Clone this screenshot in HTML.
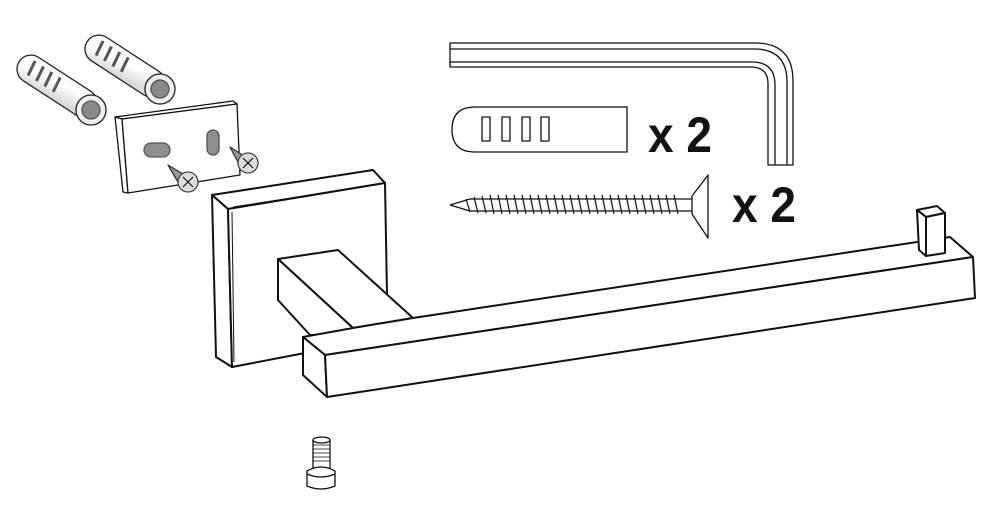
<!DOCTYPE html>
<html><head><meta charset="utf-8"><style>
html,body{margin:0;padding:0;background:#fff;width:1000px;height:508px;overflow:hidden}
</style></head><body>
<svg width="1000" height="508" viewBox="0 0 1000 508" xmlns="http://www.w3.org/2000/svg">
<defs>
<linearGradient id="dw" x1="0" y1="0" x2="0.4" y2="1">
<stop offset="0" stop-color="#f4f4f4"/><stop offset="0.5" stop-color="#fff"/><stop offset="1" stop-color="#d8d8d8"/></linearGradient>
</defs>
<g fill="none" stroke="#111" stroke-width="1.3" stroke-linejoin="round">
<g transform="translate(57,86) rotate(33)">
<rect x="-45" y="-14" width="90" height="28" rx="14" fill="url(#dw)" stroke="#222"/>
<path d="M-32 -9l2 16M-22 -9l2 16M-12 -9l2 16M-2 -9l2 16" stroke-width="3" stroke="#555"/>
</g>
<circle cx="91" cy="110" r="15" fill="#f0f0f0" stroke="#222"/><circle cx="91" cy="110" r="9" fill="#8a8a8a" stroke="#555"/>
<g transform="translate(125,66) rotate(33)">
<rect x="-45" y="-14" width="90" height="28" rx="14" fill="url(#dw)" stroke="#222"/>
<path d="M-32 -9l2 16M-22 -9l2 16M-12 -9l2 16M-2 -9l2 16" stroke-width="3" stroke="#555"/>
</g>
<circle cx="160" cy="89" r="15" fill="#f0f0f0" stroke="#222"/><circle cx="160" cy="89" r="9" fill="#8a8a8a" stroke="#555"/>
<path d="M115 117L233 101L237 104L122 119Z" fill="#fff"/>
<path d="M115 117L122 119L128 193L123 192Z" fill="#fff"/>
<path d="M122 119L237 104L240 175L128 193Z" fill="#fff"/>
<rect x="144" y="143" width="26" height="14" rx="7" fill="#8e8e8e" stroke="#555"/>
<rect x="207" y="130" width="12" height="25" rx="6" fill="#8e8e8e" stroke="#555"/>
<path d="M168 165L183 174L178 182Z" fill="#999" stroke="#333"/>
<circle cx="188" cy="182" r="10" fill="#ddd" stroke="#444"/><path d="M183 177l10 10M193 177l-10 10" stroke-width="1.2"/>
<path d="M230 147L244 156L239 164Z" fill="#999" stroke="#333"/>
<circle cx="248" cy="163" r="10" fill="#ddd" stroke="#444"/><path d="M243 158l10 10M253 158l-10 10" stroke-width="1.2"/>
<g stroke-width="2">
<path d="M212 195L373 170L385 183L228 209Z" fill="#fff"/>
<path d="M212 195L228 209L232 367L216 357Z" fill="#fff"/>
<path d="M228 209L385 183L387 295L305 353L232 367Z" fill="#fff"/>
<path d="M233 207L381 184M232 212L234 362" stroke-width="1"/>
<path d="M278 259L338 250L413 318L353 328Z" fill="#fff"/>
<path d="M278 259L353 328L353 335L310 335L278 300Z" fill="#fff"/>
<path d="M303 337L353 328L413 318L950 237L973 257L325 355Z" fill="#fff"/>
<path d="M303 337L325 355L327 397L303 375Z" fill="#fff"/>
<path d="M325 355L973 257L975 298L327 397Z" fill="#fff"/>
<path d="M917 210L937 206L945 213L926 217Z" fill="#fff"/>
<path d="M917 210L926 217L926 256L919 250Z" fill="#fff"/>
<path d="M926 217L945 213L945 253L926 256Z" fill="#fff"/>
</g>
<g stroke-width="1.3">
<path d="M450 43H755Q793 43 793 81V165H768V84Q768 67 751 67H450Z"/>
<path d="M450 49H754Q787 49 787 82V165M450 62H752Q775 62 775 85V165"/>
</g>
<path d="M475 107H627V152H475Q452 152 452 129.5Q452 107 475 107Z"/>
<rect x="482" y="117" width="8" height="24"/><rect x="502" y="117" width="8" height="24"/><rect x="522" y="117" width="8" height="24"/><rect x="541" y="117" width="8" height="24"/>
<path d="M450 205L470 199H692M450 205L470 211H692M692 196L708 175V238L692 214V196" stroke-width="1.3"/>
<g stroke-width="1.2">
<path d="M466 199l4 13M474 197l4 16M482 196l4 17M490 195l4 19M498 195l4 19M506 195l4 19M514 195l4 19M522 195l4 19M530 195l4 19M538 195l4 19M546 195l4 19M554 195l4 19M562 195l4 19M570 195l4 19M578 195l4 19M586 195l4 19M594 195l4 19M602 195l4 19M610 195l4 19M618 195l4 19M626 195l4 19M634 195l4 19M642 195l4 19M650 195l4 19M658 195l4 19M666 195l4 19M674 195l4 19"/>
</g>
<path d="M313 440V468M330 440V468"/>
<ellipse cx="321.5" cy="440" rx="8.5" ry="3"/>
<path d="M313 445h17M313 449h17M313 453h17M313 457h17M313 461h17" stroke-width="0.8"/>
<path d="M307 471V486Q321 492 335 486V471Q321 463 307 471Z" fill="#fff"/>
<path d="M307 474Q321 480 335 474"/>
</g>
<g font-family="Liberation Sans Narrow, Liberation Sans, sans-serif" font-size="50" font-weight="bold" fill="#111">
<text x="648" y="152" textLength="64" lengthAdjust="spacingAndGlyphs">x 2</text>
<text x="732" y="222" textLength="64" lengthAdjust="spacingAndGlyphs">x 2</text>
</g>
</svg>
</body></html>
